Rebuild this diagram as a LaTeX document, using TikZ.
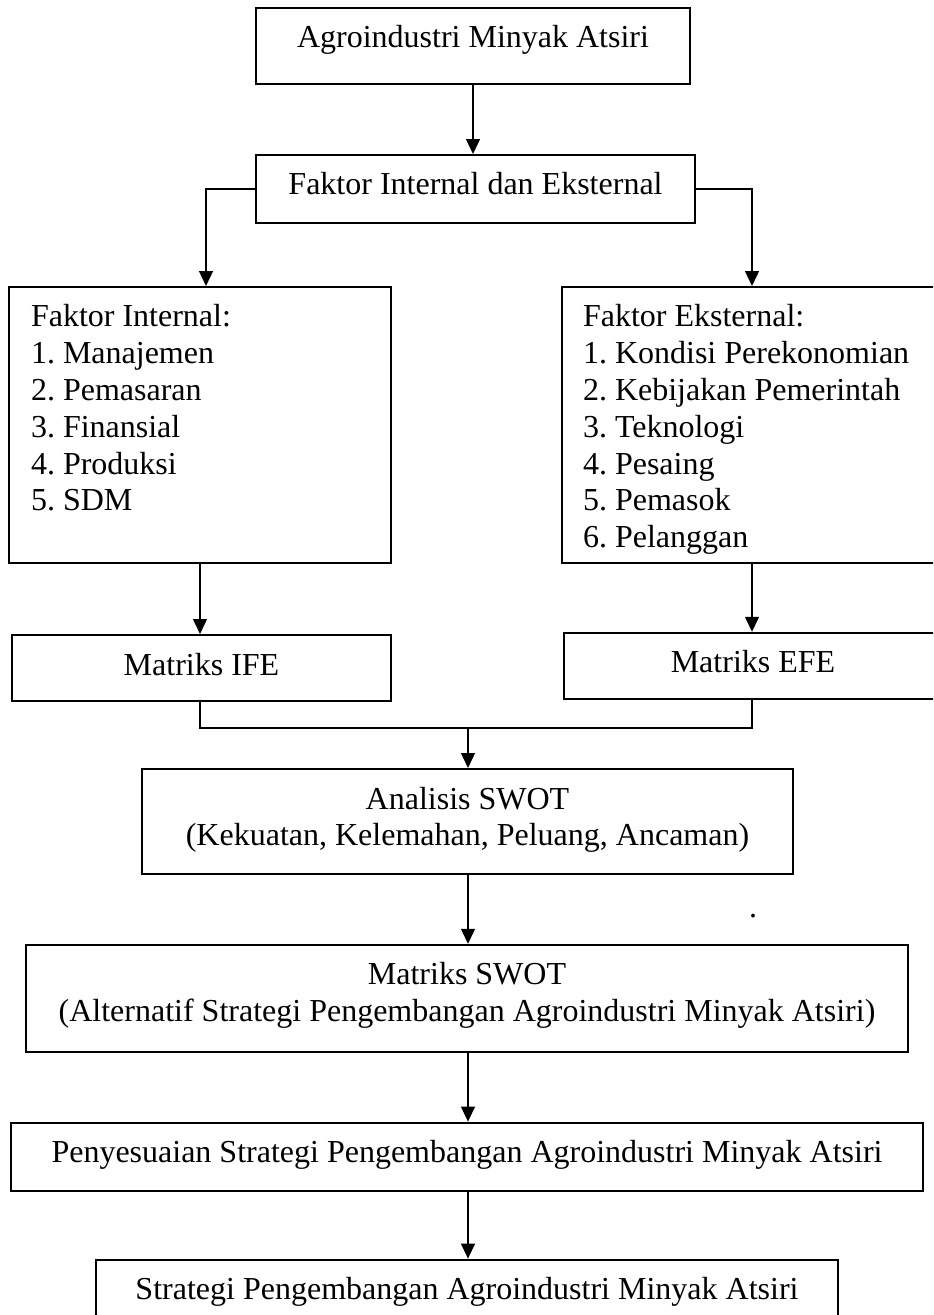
\documentclass[tikz,border=0pt]{standalone}
\usepackage{fontspec}
\setmainfont{Liberation Serif}
\usetikzlibrary{positioning,arrows.meta}
\frenchspacing
\newlength{\pxu}
\setlength{\pxu}{0.375pt}
\newcommand{\firstln}{\rule{0pt}{40\pxu}}
\newcommand{\lastln}[1]{\rule[-#1\pxu]{0pt}{#1\pxu}}
\tikzset{
  flowbox/.style={rectangle, draw, line width=0.75pt, inner xsep=0pt, inner ysep=0pt,
                  align=center, anchor=north, font={\fontsize{12pt}{13.8pt}\selectfont}},
  listbox/.style={flowbox, align=flush left, text width=338\pxu},
  fwd/.style={-{Triangle[length=5.6pt,width=5.2pt]}, line width=0.6pt},
  link/.style={line width=0.6pt},
}

\begin{document}
\begin{tikzpicture}[x=\pxu, y=-\pxu]
  \useasboundingbox (0,0) rectangle (933,1315);
  \clip (0,0) rectangle (933,1315);

  \node[flowbox, minimum width=434\pxu] (agro) at (473,7) {\firstln Agroindustri Minyak Atsiri\lastln{36}};
  \node[flowbox, minimum width=439\pxu, below=69\pxu of agro, xshift=2.5\pxu] (faktor) {\firstln Faktor Internal dan Eksternal\lastln{28}};

  \node[listbox, inner xsep=22\pxu] (internal) at (200,286) {\firstln Faktor Internal:\\1. Manajemen\\2. Pemasaran\\3. Finansial\\4. Produksi\\5. SDM\lastln{52}};
  \node[listbox, inner xsep=21\pxu] (eksternal) at (752,286) {\firstln Faktor Eksternal:\\1. Kondisi Perekonomian\\2. Kebijakan Pemerintah\\3. Teknologi\\4. Pesaing\\5. Pemasok\\6. Pelanggan\lastln{15}};

  \node[flowbox, minimum width=379\pxu, below=70\pxu of internal, xshift=1.5\pxu] (ife) {\firstln Matriks IFE\lastln{26}};
  \node[flowbox, minimum width=378\pxu, below=68\pxu of eksternal, xshift=1\pxu] (efe) {\firstln Matriks EFE\lastln{26}};

  \node[flowbox, minimum width=651\pxu] (analisis) at (467.5,768) {\firstln Analisis SWOT\\(Kekuatan, Kelemahan, Peluang, Ancaman)\lastln{28}};
  \node[flowbox, minimum width=882\pxu, below=69\pxu of analisis, xshift=-0.5\pxu] (matriks) {\firstln Matriks SWOT\\(Alternatif Strategi Pengembangan Agroindustri Minyak Atsiri)\lastln{30}};
  \node[flowbox, minimum width=912\pxu, below=69\pxu of matriks] (sesuai) {\firstln Penyesuaian Strategi Pengembangan Agroindustri Minyak Atsiri\lastln{28}};
  \node[flowbox, minimum width=742\pxu, below=67\pxu of sesuai] (strategi) {\firstln Strategi Pengembangan Agroindustri Minyak Atsiri\lastln{40}};

  \node[inner sep=0pt, font={\fontsize{12pt}{13.8pt}\selectfont}] (titik) at (753,916) {.};

  \draw[fwd] (agro.south) -- (agro.south |- faktor.north);
  \draw[fwd] (faktor.west) -| ([xshift=6\pxu]internal.north);
  \draw[fwd] (faktor.east) -| (eksternal.north);
  \draw[fwd] (internal.south) -- (internal.south |- ife.north);
  \draw[fwd] (eksternal.south) -- (eksternal.south |- efe.north);

  % IFE and EFE join before the SWOT steps
  \coordinate (join) at (468,728);
  \draw[link] (internal.south |- ife.south) |- (join) -| (eksternal.south |- efe.south);
  \draw[fwd] (join) -- (join |- analisis.north);
  \draw[fwd] (join |- analisis.south) -- (join |- matriks.north);
  \draw[fwd] (join |- matriks.south) -- (join |- sesuai.north);
  \draw[fwd] (join |- sesuai.south) -- (join |- strategi.north);
\end{tikzpicture}
\end{document}
